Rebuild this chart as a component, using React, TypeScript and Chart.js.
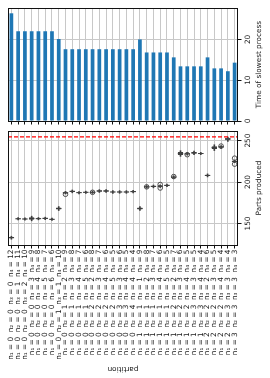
import React, { useEffect, useRef } from 'react';
import { Chart, registerables } from 'chart.js';

Chart.register(...registerables);

// Partition of 12 processes into four stations
const N1 = [0, 0, 0, 0, 0, 0, 0, 0, 0, 0, 0, 0, 0, 0, 0, 0, 0, 0, 0, 1, 1, 1, 1, 1, 1, 1, 1, 1, 1, 2, 2, 2, 2, 3];
const N2 = [0, 0, 0, 0, 0, 0, 0, 1, 1, 1, 1, 1, 2, 2, 2, 2, 3, 3, 4, 1, 1, 1, 1, 1, 2, 2, 2, 3, 3, 2, 2, 2, 3, 3];
const N3 = [0, 1, 2, 3, 4, 5, 6, 1, 2, 3, 4, 5, 2, 3, 4, 5, 3, 4, 4, 1, 2, 3, 4, 5, 2, 3, 4, 3, 4, 2, 3, 4, 3, 3];
const N4 = [12, 11, 10, 9, 8, 7, 6, 10, 9, 8, 7, 6, 8, 7, 6, 5, 6, 5, 4, 9, 8, 7, 6, 5, 7, 6, 5, 5, 4, 6, 5, 4, 4, 3];

// Time of slowest process
const SLOWEST = [26.4, 22, 22, 22, 22, 22, 22, 20.1, 17.6, 17.6, 17.6, 17.6, 17.6, 17.6, 17.6, 17.6, 17.6, 17.6, 17.6,
  20.0, 16.8, 16.8, 16.8, 16.8, 15.6, 13.4, 13.4, 13.4, 13.4, 15.6, 12.9, 12.9, 12.2, 14.3];

// Parts produced (box plot statistics)
const MEDIAN = [132.8, 155.6, 155.4, 156.0, 155.8, 156.2, 155.0, 168.0, 187.0, 188.8, 187.2, 187.6, 187.6, 189.2, 189.2, 188.0, 188.0, 188.0, 188.4,
  168.0, 194.2, 194.8, 195.0, 196.0, 206.0, 234.4, 234.0, 235.2, 234.4, 208.0, 241.6, 242.4, 252.0, 225.0];
const Q1 = [132.0, 155.0, 154.8, 154.5, 155.2, 155.5, 154.4, 166.8, 186.3, 188.0, 186.6, 187.0, 187.0, 188.4, 188.4, 187.3, 187.3, 187.3, 187.6,
  166.8, 193.4, 194.0, 194.2, 195.2, 205.2, 232.6, 233.3, 234.2, 233.9, 207.2, 239.8, 241.6, 250.4, 224.2];
const Q3 = [133.6, 156.2, 156.0, 157.6, 156.4, 156.8, 155.6, 169.3, 187.8, 189.6, 187.8, 188.2, 188.2, 190.0, 190.0, 188.7, 188.7, 188.7, 189.2,
  169.3, 195.0, 195.6, 195.8, 196.8, 206.8, 236.2, 234.7, 236.2, 234.9, 208.8, 243.3, 243.2, 253.4, 225.8];
const WHISK_LO = [131.0, 154.2, 154.0, 153.2, 154.4, 154.6, 153.6, 165.6, 185.6, 187.0, 185.8, 186.2, 186.2, 187.4, 187.4, 186.4, 186.4, 186.4, 186.8,
  165.6, 192.6, 193.0, 193.4, 194.4, 204.4, 231.0, 232.4, 233.0, 233.0, 206.2, 238.0, 240.6, 249.0, 223.4];
const WHISK_HI = [134.6, 157.0, 156.8, 158.8, 157.2, 157.6, 156.4, 170.4, 188.6, 190.4, 188.6, 189.0, 189.0, 190.8, 190.8, 189.6, 189.6, 189.6, 190.0,
  170.4, 195.8, 196.4, 196.6, 197.6, 207.6, 237.8, 235.6, 237.4, 235.8, 209.8, 245.0, 244.0, 254.2, 226.6];
const FLIER_CAT = [8, 12, 20, 22, 22, 24, 26, 31, 33, 33];
const FLIER_VAL = [185.2, 187.6, 194.2, 197.0, 192.8, 206.6, 233.0, 243.4, 228.8, 221.6];
const TARGET = 254.5;

const TIME_TICKS = { min: 0, max: 27.7, step: 10 };
const PARTS_TICKS = { min: 124, max: 261.6, step: 50 };

const LABELS = N1.map((_, i) => `n\u2081 = ${N1[i]}  n\u2082 = ${N2[i]}  n\u2083 = ${N3[i]}  n\u2084 = ${N4[i]}`);

const FONT = '"DejaVu Sans", sans-serif';
const FS = 7.3;
const INK = '#1a1a1a';
const GRID = '#c8c8c8';

const framePlugin = {
  id: 'frame',
  afterDraw(chart: any) {
    const { ctx, chartArea: a } = chart;
    ctx.save();
    ctx.strokeStyle = '#111';
    ctx.lineWidth = 1;
    const l = Math.round(a.left), t = Math.round(a.top), r = Math.round(a.right), b = Math.round(a.bottom);
    ctx.strokeRect(l + 0.5, t + 0.5, r - l - 1, b - t);
    ctx.restore();
  },
};

const rightAxisText = (title: string) => ({
  id: 'rightAxisText',
  afterDraw(chart: any) {
    const s = chart.scales.y;
    const ctx = chart.ctx;
    ctx.save();
    ctx.fillStyle = INK;
    ctx.font = `${FS}px ${FONT}`;
    ctx.textAlign = 'center';
    ctx.textBaseline = 'middle';
    s.ticks.forEach((t: any) => {
      const y = s.getPixelForValue(t.value);
      ctx.save();
      ctx.translate(s.left + 10.5, y);
      ctx.rotate(-Math.PI / 2);
      ctx.fillText(String(t.value), 0, 0);
      ctx.restore();
    });
    const cy = (chart.chartArea.top + chart.chartArea.bottom) / 2;
    ctx.translate(s.left + 21, cy);
    ctx.rotate(-Math.PI / 2);
    ctx.fillText(title, 0, 0);
    ctx.restore();
  },
});

const bottomTitle = {
  id: 'bottomTitle',
  afterDraw(chart: any) {
    const ctx = chart.ctx;
    const a = chart.chartArea;
    ctx.save();
    ctx.fillStyle = INK;
    ctx.font = `${FS}px ${FONT}`;
    ctx.textAlign = 'center';
    ctx.textBaseline = 'middle';
    ctx.translate((a.left + a.right) / 2, chart.height - 9);
    ctx.rotate(Math.PI);
    ctx.fillText('partition', 0, 0);
    ctx.restore();
  },
};

const targetLine = {
  id: 'targetLine',
  afterDatasetsDraw(chart: any) {
    const ctx = chart.ctx;
    const a = chart.chartArea;
    const y = chart.scales.y.getPixelForValue(TARGET);
    ctx.save();
    ctx.strokeStyle = '#ff0000';
    ctx.lineWidth = 1.2;
    ctx.setLineDash([4, 2]);
    ctx.beginPath();
    ctx.moveTo(a.left, y);
    ctx.lineTo(a.right, y);
    ctx.stroke();
    ctx.restore();
  },
};

function xScale(showLabels: boolean, height: number) {
  return {
    type: 'category' as const,
    offset: true,
    grid: { offset: false, color: GRID, lineWidth: 1, drawTicks: true, tickLength: 3.5, tickColor: '#111' },
    border: { display: false },
    ticks: {
      display: showLabels,
      autoSkip: false,
      minRotation: 90,
      maxRotation: 90,
      padding: 1,
      color: INK,
      font: { family: FONT, size: FS },
    },
    afterFit: (s: any) => { s.height = height; },
  };
}

function yScale(r: { min: number; max: number; step: number }) {
  return {
    position: 'right' as const,
    min: r.min,
    max: r.max,
    grid: { color: GRID, lineWidth: 1, drawTicks: true, tickLength: 3.5, tickColor: '#111' },
    border: { display: false },
    ticks: { display: false, stepSize: r.step, includeBounds: false },
    afterFit: (s: any) => { s.width = 32; },
  };
}

export default function App() {
  const topRef = useRef<HTMLCanvasElement>(null);
  const botRef = useRef<HTMLCanvasElement>(null);

  useEffect(() => {
    const top = new Chart(topRef.current!, {
      type: 'bar',
      data: {
        labels: LABELS,
        datasets: [{
          data: SLOWEST,
          backgroundColor: '#1f77b4',
          barPercentage: 0.55,
          categoryPercentage: 1,
        }],
      },
      options: {
        animation: false,
        responsive: false,
        events: [],
        layout: { padding: { left: 8, top: 8, right: 0, bottom: 0 } },
        plugins: { legend: { display: false }, tooltip: { enabled: false } },
        scales: { x: xScale(false, 9), y: yScale(TIME_TICKS) },
      },
      plugins: [framePlugin, rightAxisText('Time of slowest process')],
    });

    const bot = new Chart(botRef.current!, {
      type: 'bar',
      data: {
        labels: LABELS,
        datasets: [
          {
            type: 'line',
            data: FLIER_CAT.map((c, i) => ({ x: LABELS[c], y: FLIER_VAL[i] })),
            showLine: false,
            pointStyle: 'circle',
            pointRadius: 2.3,
            pointBorderWidth: 0.9,
            pointBorderColor: '#3f3f3f',
            pointBackgroundColor: 'rgba(255,255,255,0)',
            order: 0,
          } as any,
          {
            type: 'line',
            data: MEDIAN,
            showLine: false,
            pointStyle: 'line',
            pointRadius: 2.7,
            pointBorderWidth: 1,
            pointBorderColor: '#3f3f3f',
            order: 1,
          } as any,
          {
            type: 'bar',
            data: Q1.map((q, i) => [q, Q3[i]]),
            backgroundColor: '#3274a1',
            borderColor: '#3f3f3f',
            borderWidth: 1,
            borderSkipped: false,
            barPercentage: 0.8,
            categoryPercentage: 1,
            grouped: false,
            order: 2,
          } as any,
          {
            type: 'bar',
            data: WHISK_LO.map((w, i) => [w, WHISK_HI[i]]),
            backgroundColor: '#3f3f3f',
            barThickness: 1,
            grouped: false,
            order: 3,
          } as any,
        ],
      },
      options: {
        animation: false,
        responsive: false,
        events: [],
        layout: { padding: { left: 8, top: 5, right: 0, bottom: 0 } },
        plugins: { legend: { display: false }, tooltip: { enabled: false } },
        scales: { x: xScale(true, 133), y: yScale(PARTS_TICKS) },
      },
      plugins: [targetLine, framePlugin, rightAxisText('Parts produced'), bottomTitle],
    });

    return () => { top.destroy(); bot.destroy(); };
  }, []);

  return (
    <div style={{ position: 'absolute', left: 0, top: 0, width: 270, height: 378, background: '#fff' }}>
      <canvas ref={topRef} width={270} height={130} style={{ position: 'absolute', left: 0, top: 0 }} />
      <canvas ref={botRef} width={270} height={252} style={{ position: 'absolute', left: 0, top: 126 }} />
    </div>
  );
}
